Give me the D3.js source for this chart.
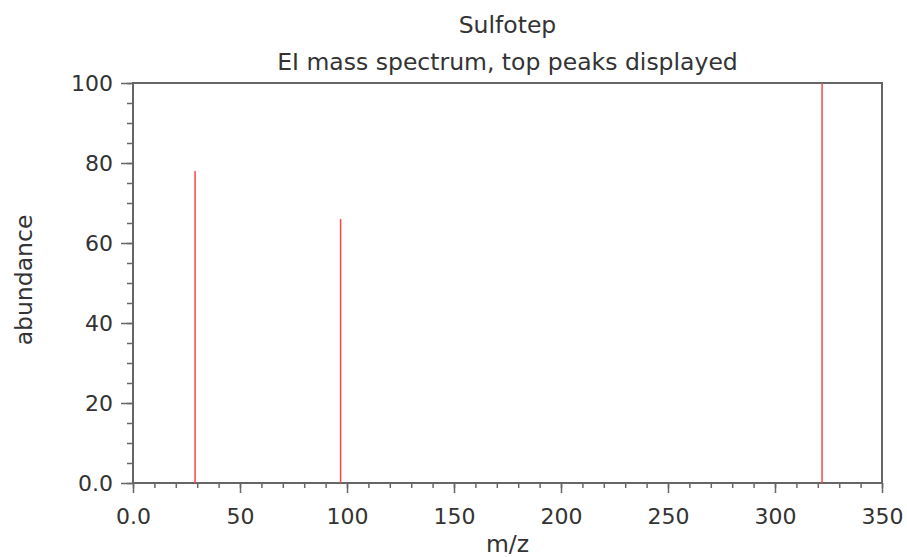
<!DOCTYPE html>
<html>
<head>
<meta charset="utf-8">
<script src="https://cdn.jsdelivr.net/npm/d3@7"></script>
<style>
  body { margin: 0; background: #fff; }
  text { font-family: "DejaVu Sans", sans-serif; fill: #333; }
</style>
</head>
<body>
<div id="card"></div>
<script>
  //peak positions (m/z) and relative abundance
  const mz = [29, 97, 322];
  const abundance = [78, 66, 100];
  const xTicks = [0, 50, 100, 150, 200, 250, 300, 350];
  const yTicks = [0, 20, 40, 60, 80, 100];
  const titleText = "Sulfotep";
  const subtitleText = "EI mass spectrum, top peaks displayed";

  const w = 907;
  const h = 557;
  const margin = { top: 83, bottom: 74, left: 133, right: 25 };
  const width = w - (margin.left + margin.right);
  const height = h - (margin.top + margin.bottom);

  const svg = d3.select("#card")
                .append("svg")
                  .attr("width", w)
                  .attr("height", h);

  const chart = svg.append("g")
                  .attr("transform", "translate(" + margin.left + "," + margin.top + ")");

  const x = d3.scaleLinear().domain([0, 350]).range([0, width]);
  const y = d3.scaleLinear().domain([0, 100]).range([height, 0]);

  const axisColor = "#666";
  const fontSize = "22px";
  const labelSize = "23.5px";

  //minor ticks
  chart.append("g")
    .attr("transform", "translate(0," + height + ")")
    .call(d3.axisBottom(x).tickValues(d3.range(0, 351, 10)).tickSize(5).tickFormat(""))
    .call(g => g.select(".domain").remove())
    .selectAll("line").attr("stroke", axisColor).attr("stroke-width", 1.5);

  chart.append("g")
    .call(d3.axisLeft(y).tickValues(d3.range(0, 101, 5)).tickSize(6).tickFormat(""))
    .call(g => g.select(".domain").remove())
    .selectAll("line").attr("stroke", axisColor).attr("stroke-width", 1.5);

  //major ticks
  const xAxis = chart.append("g")
    .attr("transform", "translate(0," + height + ")")
    .call(d3.axisBottom(x).tickValues(xTicks).tickSize(10).tickPadding(15)
      .tickFormat(d => d === 0 ? "0.0" : d));
  xAxis.select(".domain").remove();
  xAxis.selectAll("line").attr("stroke", axisColor).attr("stroke-width", 1.5);
  xAxis.selectAll("text").style("font-size", fontSize).attr("fill", "#333");

  const yAxis = chart.append("g")
    .call(d3.axisLeft(y).tickValues(yTicks).tickSize(12).tickPadding(8)
      .tickFormat(d => d === 0 ? "0.0" : d));
  yAxis.select(".domain").remove();
  yAxis.selectAll("line").attr("stroke", axisColor).attr("stroke-width", 1.5);
  yAxis.selectAll("text").style("font-size", fontSize).attr("fill", "#333");

  //frame
  chart.append("rect")
    .attr("x", 0).attr("y", 0)
    .attr("width", width).attr("height", height)
    .attr("fill", "none")
    .attr("stroke", axisColor)
    .attr("stroke-width", 2);

  //peaks
  chart.selectAll(".peak")
    .data(mz)
    .enter()
      .append("line")
      .classed("peak", true)
      .attr("x1", d => x(d))
      .attr("x2", d => x(d))
      .attr("y1", y(0))
      .attr("y2", (d, i) => y(abundance[i]))
      .attr("stroke", "#ff4444")
      .attr("stroke-width", 1.5);

  //titles
  svg.append("text")
    .attr("x", margin.left + width / 2)
    .attr("y", 33)
    .attr("text-anchor", "middle")
    .style("font-size", labelSize)
    .text(titleText);

  svg.append("text")
    .attr("x", margin.left + width / 2)
    .attr("y", 70)
    .attr("text-anchor", "middle")
    .style("font-size", labelSize)
    .text(subtitleText);

  //axis labels
  svg.append("text")
    .attr("x", margin.left + width / 2)
    .attr("y", 552)
    .attr("text-anchor", "middle")
    .style("font-size", labelSize)
    .text("m/z");

  svg.append("text")
    .attr("transform", "translate(32," + (margin.top + height / 2 - 3) + ") rotate(-90)")
    .attr("text-anchor", "middle")
    .style("font-size", labelSize)
    .text("abundance");
</script>
</body>
</html>
